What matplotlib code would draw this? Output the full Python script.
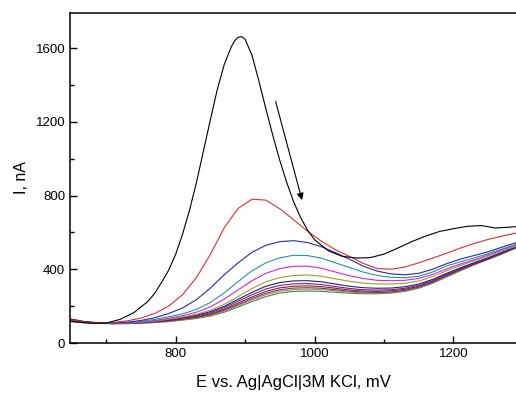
import numpy as np
import matplotlib
matplotlib.use("Agg")
import matplotlib.pyplot as plt
from matplotlib.ticker import MultipleLocator

plt.rcParams['font.family'] = ['Liberation Sans', 'DejaVu Sans']

# potential grid, mV
E = [650, 670, 690, 710, 730, 750, 770, 790, 810, 830, 850, 870, 890, 910, 930, 950, 970,
     990, 1010, 1030, 1050, 1070, 1090, 1110, 1130, 1150, 1170, 1190, 1210, 1230, 1250, 1270, 1290]

# first scan has its own finer grid (sharp peak)
E_black = [650, 660, 680, 700, 720, 740, 760, 770, 780, 790, 800, 810, 820, 830, 840, 850, 860, 870, 880,
           885, 890, 895, 900, 910, 920, 930, 940, 950, 960, 970, 980, 990, 1000, 1020, 1040, 1060,
           1080, 1100, 1120, 1140, 1160, 1180, 1200, 1220, 1240, 1260, 1280, 1290]
I_black = [118, 113, 107, 108, 128, 165, 225, 270, 330, 395, 480, 590, 720, 870, 1040, 1210, 1375, 1510, 1605,
           1640, 1658, 1662, 1648, 1560, 1420, 1270, 1125, 990, 870, 765, 680, 612, 560, 500, 470, 461,
           463, 482, 515, 550, 580, 605, 620, 633, 637, 624, 628, 631]

I_red = [125, 114, 110, 111, 120, 135, 160, 200, 262, 355, 480, 625, 730, 780, 775, 728, 668,
         606, 552, 506, 470, 432, 404, 400, 412, 435, 460, 487, 515, 540, 562, 580, 596]
I_blue = [128, 115, 110, 109, 113, 122, 137, 160, 190, 235, 298, 370, 435, 492, 530, 550, 555,
          545, 522, 490, 455, 417, 390, 375, 370, 378, 400, 430, 455, 475, 495, 520, 544]
I_teal = [122, 112, 108, 107, 110, 117, 128, 142, 158, 182, 220, 272, 333, 392, 435, 462, 476,
          474, 460, 435, 410, 385, 366, 356, 354, 362, 385, 418, 440, 462, 485, 510, 535]
I_magenta = [120, 112, 108, 107, 109, 114, 122, 134, 148, 167, 196, 238, 288, 338, 378, 404, 416,
             417, 405, 385, 365, 350, 340, 338, 340, 350, 372, 402, 428, 452, 478, 505, 530]
I_olive = [118, 111, 107, 106, 108, 112, 119, 129, 141, 156, 178, 210, 252, 296, 332, 355, 366,
           369, 362, 348, 335, 325, 320, 320, 324, 336, 360, 392, 420, 446, 472, 500, 525]
I_navy = [125, 113, 108, 106, 108, 112, 118, 127, 138, 151, 170, 199, 237, 275, 308, 328, 337,
          338, 332, 320, 308, 300, 297, 298, 305, 320, 345, 378, 408, 436, 463, 492, 520]
I_purple = [130, 115, 108, 106, 107, 111, 116, 124, 134, 146, 164, 192, 227, 262, 293, 312, 321,
            322, 317, 306, 296, 289, 287, 289, 297, 313, 339, 372, 403, 432, 460, 490, 520]
I_wine = [128, 114, 108, 106, 107, 110, 115, 122, 131, 142, 158, 184, 217, 250, 280, 299, 308,
          310, 306, 297, 288, 282, 280, 283, 291, 308, 334, 368, 400, 430, 458, 488, 518]
I_gray = [122, 112, 107, 105, 106, 109, 114, 120, 129, 139, 154, 178, 209, 241, 270, 289, 298,
          300, 297, 289, 281, 276, 274, 277, 286, 303, 330, 364, 397, 428, 456, 486, 517]
I_rose = [120, 111, 107, 105, 105, 108, 112, 118, 126, 136, 150, 173, 203, 234, 262, 281, 290,
          292, 290, 283, 276, 272, 271, 274, 283, 300, 327, 361, 395, 426, 455, 485, 517]
I_green = [115, 109, 106, 105, 105, 107, 111, 116, 124, 133, 146, 167, 195, 225, 252, 271, 280,
           282, 280, 275, 270, 267, 267, 271, 280, 297, 324, 358, 392, 424, 453, 483, 516]

scans = [
    (I_green, '#3a8a3a'),
    (I_rose, '#c07888'),
    (I_gray, '#505050'),
    (I_wine, '#902030'),
    (I_purple, '#802080'),
    (I_navy, '#202090'),
    (I_olive, '#a0a020'),
    (I_magenta, '#e020e0'),
    (I_teal, '#209898'),
    (I_blue, '#2828b0'),
    (I_red, '#d83030'),
]

fig = plt.figure(figsize=(5.16, 3.94), dpi=100)
ax = fig.add_axes([70 / 516, 1 - 343 / 394, 1 - 70 / 516, (343 - 13) / 394])

for vals, col in scans:
    ax.plot(E, vals, color=col, lw=0.8)
ax.plot(E_black, I_black, color='black', lw=0.8)

# arrow showing decrease with successive scans
ax.annotate('', xy=(982, 775), xytext=(944, 1310),
            arrowprops=dict(arrowstyle='-|>', color='black', lw=0.8,
                            mutation_scale=10, shrinkA=0, shrinkB=0))

ax.set_xlim(648, 1290)
ax.set_ylim(0, 1790)
ax.xaxis.set_major_locator(MultipleLocator(200))
ax.xaxis.set_minor_locator(MultipleLocator(100))
ax.yaxis.set_major_locator(MultipleLocator(400))
ax.yaxis.set_minor_locator(MultipleLocator(200))
ax.tick_params(which='both', direction='in', top=False, right=False, labelsize=9.5)
ax.tick_params(which='major', length=5, width=1)
ax.tick_params(which='minor', length=3, width=1)
ax.spines['right'].set_visible(False)
for s in ['left', 'bottom', 'top']:
    ax.spines[s].set_linewidth(1.1)

ax.set_xlabel('E vs. Ag|AgCl|3M KCl, mV', fontsize=12, labelpad=11)
ax.set_ylabel('I, nA', fontsize=11.5, labelpad=5)

fig.savefig('out.png', dpi=100)
